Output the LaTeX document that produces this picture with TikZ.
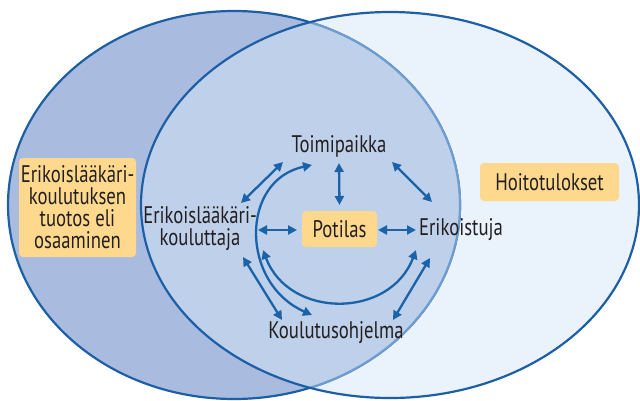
\documentclass[tikz,border=0pt]{standalone}
\usepackage{fontspec}
\setmainfont{PT Sans}[FakeStretch=0.78]
\usetikzlibrary{arrows.meta}
\definecolor{ringblue}{HTML}{1C5FA6}
\definecolor{ringlight}{HTML}{6F9DD0}
\definecolor{leftfill}{HTML}{A9BBDF}
\definecolor{midfill}{HTML}{BFD0EA}
\definecolor{rightfill}{HTML}{EAF2FB}
\definecolor{boxfill}{HTML}{FED98D}
\definecolor{arrowblue}{HTML}{1B63A9}
\definecolor{inktext}{HTML}{231F20}

\begin{document}
\begin{tikzpicture}[x=1pt, y=1pt]
    \tikzstyle{word}=[text=inktext, font=\fontsize{24}{22}\selectfont, align=center, inner sep=0pt]
    \tikzstyle{box}=[word, fill=boxfill, rounded corners=4pt]
    \tikzstyle{link}=[arrowblue, line width=2.3pt, {Triangle[length=9pt,width=9pt]}-{Triangle[length=9pt,width=9pt]}]
    \useasboundingbox (0,0) rectangle (640,-400);

    % The two overlapping rings
    \fill[rightfill] (390,-205) ellipse [x radius=249pt, y radius=193pt];
    \draw[ringblue, line width=2.2pt, fill=leftfill] (234,-205) ellipse [x radius=226pt, y radius=194pt];
    \begin{scope}
      \clip (390,-205) ellipse [x radius=249pt, y radius=193pt];
      \fill[midfill] (234,-205) ellipse [x radius=226pt, y radius=194pt];
      \draw[ringlight, line width=2.2pt] (234,-205) ellipse [x radius=226pt, y radius=194pt];
    \end{scope}
    \draw[ringblue, line width=2.2pt] (390,-205) ellipse [x radius=249pt, y radius=193pt];

    % Labels and boxes
    \node[word] (toimi) at (339,-146) {Toimipaikka};
    \node[box, minimum width=75pt, minimum height=36pt] (potilas) at (339.5,-229) {Potilas};
    \node[word] (erik) at (461,-230) {Erikoistuja};
    \node[word] (koul) at (200,-229) {Erikoislääkäri-\\kouluttaja};
    \node[word] (ohj) at (336,-333) {Koulutusohjelma};
    \node[box, minimum width=117pt, minimum height=99pt] (tuotos) at (77.5,-207.5) {Erikoislääkäri-\\koulutuksen\\tuotos eli\\osaaminen};
    \node[box, minimum width=139pt, minimum height=38pt] (hoito) at (549.5,-182) {Hoitotulokset};

    % Two-way arrows
    \draw[link] ([shift={(0,-17)}]toimi.center) -- ([shift={(0,24)}]potilas.center);
    \draw[link] ([shift={(41,26)}]koul.center) -- ([shift={(-56,-16)}]toimi.center);
    \draw[link] ([shift={(53,-16)}]toimi.center) -- ([shift={(-29,28)}]erik.center);
    \draw[link] ([shift={(58,-1)}]koul.center) -- ([shift={(-42.5,-1)}]potilas.center);
    \draw[link] ([shift={(38.5,-1)}]potilas.center) -- ([shift={(-45,0)}]erik.center);
    \draw[link] ([shift={(43,-28)}]koul.center) -- ([shift={(-54,13)}]ohj.center);
    \draw[link] ([shift={(-31,-28)}]erik.center) -- ([shift={(57,13)}]ohj.center);
    \draw[link] ([shift={(63,-21)}]koul.center) .. controls +(26,-69) and +(-26,-69) .. ([shift={(-45,-20)}]erik.center);
    \draw[link] ([shift={(-27,-19)}]toimi.center) .. controls +(-72,-15) and +(-72,32) .. ([shift={(-24,18)}]ohj.center);
\end{tikzpicture}
\end{document}
